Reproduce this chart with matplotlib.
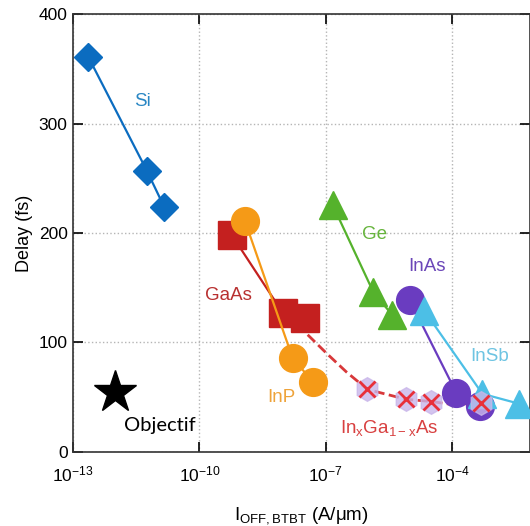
import matplotlib
matplotlib.use("Agg")
import matplotlib.pyplot as plt
import numpy as np

plt.rcParams['font.family'] = ['Liberation Sans', 'DejaVu Sans']
plt.rcParams['mathtext.default'] = 'regular'

# values (x in log10 A/um, y in fs)
si_x = [-12.64, -11.25, -10.84]
si_y = [361, 257, 224]
gaas_x = [-9.23, -8.02, -7.50]
gaas_y = [198, 127, 122]
inp_x = [-8.92, -7.79, -7.31]
inp_y = [211, 86, 64]
ge_x = [-6.84, -5.87, -5.42]
ge_y = [226, 146, 125]
inas_x = [-5.01, -3.90, -3.33]
inas_y = [139, 54, 42]
insb_x = [-4.66, -3.28, -2.41]
insb_y = [129, 53, 44]
ingaas_x = [-6.01, -5.09, -4.49, -3.31]
ingaas_y = [57, 48, 46, 45]
ingaas_curve_x = [-7.43, -6.98, -6.51, -6.01, -5.09, -4.49, -3.95, -3.36]
ingaas_curve_y = [107, 90, 73, 57, 48, 46, 43, 45]
objectif_x = [-12.0]
objectif_y = [55]
x_ticks = [-13, -10, -7, -4]
y_ticks = [0, 100, 200, 300, 400]


def main():
    fig = plt.figure(figsize=(5.30, 5.26), dpi=100)
    ax = fig.add_axes([0.138, 0.141, 0.862, 0.832])

    def p(v):
        return 10.0 ** np.array(v)

    ax.plot(p(ingaas_curve_x), ingaas_curve_y, '--', color='#d8383a', lw=2, zorder=2)
    ax.plot(p(si_x), si_y, '-D', color='#0b6cc0', ms=14, lw=1.6, zorder=3)
    ax.plot(p(gaas_x), gaas_y, '-s', color='#c4201f', ms=20, lw=1.6, zorder=3)
    ax.plot(p(inp_x), inp_y, '-o', color='#f59a17', ms=20, lw=1.6, zorder=4)
    ax.plot(p(ge_x), ge_y, '-^', color='#55b22c', ms=20, lw=1.6, zorder=3)
    ax.plot(p(inas_x), inas_y, '-o', color='#6a3cc0', ms=20, lw=1.6, zorder=3)
    ax.plot(p(insb_x), insb_y, '-^', color='#4cbfe6', ms=20, lw=1.6, zorder=4)
    ax.plot(p(ingaas_x), ingaas_y, 'h', color='#c9b6ea', ms=17, alpha=0.8,
            lw=0, zorder=5)
    ax.plot(p(ingaas_x), ingaas_y, 'x', color='#e8303a', ms=12, mew=2,
            lw=0, zorder=6)
    ax.plot(p(objectif_x), objectif_y, '*', color='black', ms=32, zorder=6)

    kw = dict(fontsize=13.5, ha='center', va='center')
    ax.text(p(-11.35), 320, 'Si', color='#2a87c4', **kw)
    ax.text(p(-9.3), 143, 'GaAs', color='#b83030', **kw)
    ax.text(p(-8.05), 50, 'InP', color='#eea33a', **kw)
    ax.text(p(-5.85), 199, 'Ge', color='#66b43c', **kw)
    ax.text(p(-4.6), 169, 'InAs', color='#6b46b8', **kw)
    ax.text(p(-3.1), 87, 'InSb', color='#6ec4e2', **kw)
    ax.text(p(-5.49), 22, r'In$_x$Ga$_{1-x}$As', color='#d84040', **kw)
    ax.text(p(-11.8), 24, 'Objectif', color='black', fontsize=14.5,
            family='Lato', ha='left', va='center')

    ax.set_xscale('log')
    ax.set_xlim(1e-13, 10 ** -2.15)
    ax.set_ylim(0, 400)
    ax.set_xticks(p(x_ticks))
    ax.set_xticklabels([r'10$^{%d}$' % t for t in x_ticks])
    ax.xaxis.set_minor_locator(matplotlib.ticker.NullLocator())
    ax.set_yticks(y_ticks)
    ax.tick_params(direction='in', length=7, width=1.2, top=True, right=True,
                   labelsize=12.5)
    ax.tick_params(axis='x', pad=9)
    ax.tick_params(axis='y', pad=4)
    ax.grid(True, ls=':', color='#b5b5b5', lw=1)
    for s in ax.spines.values():
        s.set_linewidth(1.2)
        s.set_color('#333333')

    ax.set_xlabel(r'I$_{\mathregular{OFF,BTBT}}$ (A/μm)', fontsize=13.5, labelpad=15)
    ax.set_ylabel('Delay (fs)', fontsize=13, labelpad=4)

    fig.savefig('out.png', dpi=100)


if __name__ == "__main__":
    main()
